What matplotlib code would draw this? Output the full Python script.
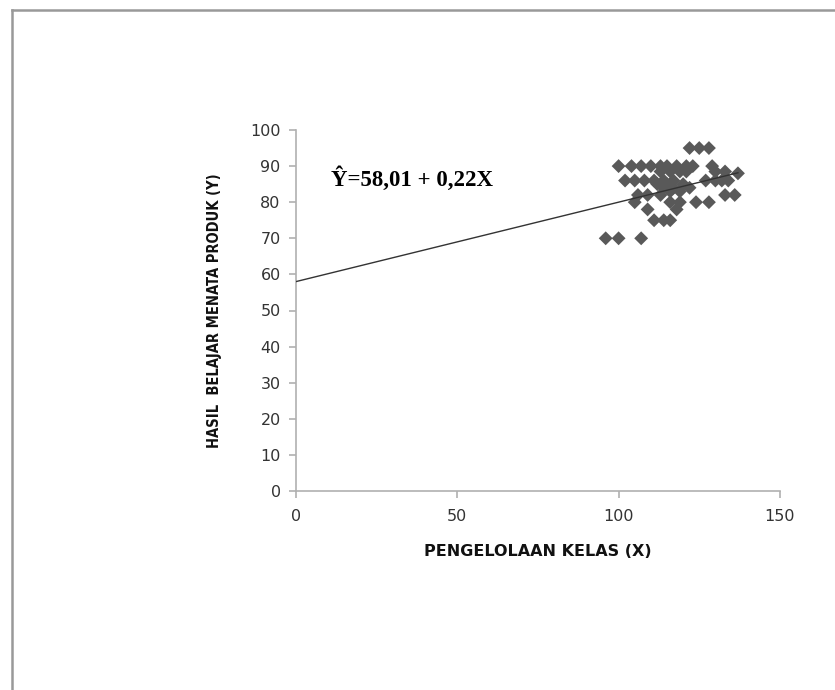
import numpy as np
import matplotlib
matplotlib.use("Agg")
import matplotlib.pyplot as plt
from matplotlib.lines import Line2D

# data
x_kelas = [122, 125, 128,
           100, 104, 107, 110, 113, 115, 118, 121, 123, 129,
           113, 116, 119, 121, 130, 133, 137,
           102, 105, 108, 111, 114, 117, 127, 130, 132, 134,
           112, 115, 120,
           114, 117, 122,
           116, 119,
           106, 109, 113, 133, 136,
           105, 116, 119, 124, 128,
           109, 118,
           111, 114, 116,
           96, 100, 107]
y_hasil = [95, 95, 95,
           90, 90, 90, 90, 90, 90, 90, 90, 90, 90,
           88.5, 88.5, 88.5, 88.5, 88.5, 88.5, 88,
           86, 86, 86, 86, 86, 86, 86, 86, 86, 86,
           85, 85, 85,
           84, 84, 84,
           83, 83,
           82, 82, 82, 82, 82,
           80, 80, 80, 80, 80,
           78, 78,
           75, 75, 75,
           70, 70, 70]

a0 = 58.01
b1 = 0.22
x_line = [0, 137]
xticks = [0, 50, 100, 150]
yticks = [0, 10, 20, 30, 40, 50, 60, 70, 80, 90, 100]

fig = plt.figure(figsize=(8.35, 6.9), dpi=100)
ax = fig.add_axes([0.3545, 0.2884, 0.5795, 0.5232])

y_line = [a0 + b1 * v for v in x_line]
ax.plot(x_line, y_line, color="#333333", lw=1.0, zorder=3)
ax.scatter(x_kelas, y_hasil, marker="D", s=50, color="#595959",
           edgecolors="none", zorder=2)

ax.set_xlim(0, 150)
ax.set_ylim(0, 100)
ax.set_xticks(xticks)
ax.set_yticks(yticks)
for s in ["top", "right"]:
    ax.spines[s].set_visible(False)
for s in ["left", "bottom"]:
    ax.spines[s].set_color("#b0b0b0")
    ax.spines[s].set_linewidth(1.2)
ax.tick_params(axis="both", colors="#b0b0b0", length=5, width=1.2,
               labelcolor="#333333", labelsize=11.5)
ax.tick_params(axis="x", pad=8)
ax.tick_params(axis="y", pad=6)

ax.set_xlabel("PENGELOLAAN KELAS (X)", fontsize=11.5, fontweight="bold",
              color="#111111", labelpad=14)
ax.set_ylabel("HASIL  BELAJAR MENATA PRODUK (Y)", fontsize=10.5,
              fontweight="bold", color="#111111", labelpad=20,
              fontstretch="condensed")

ax.text(11, 86.5, "Ŷ=58,01 + 0,22X", fontsize=16.5, fontweight="bold",
        family="Liberation Serif", color="#000000", va="center")

# page frame
fig.add_artist(Line2D([12 / 835, 12 / 835], [0, 1 - 10 / 690],
                      transform=fig.transFigure, color="#999999", lw=1.8))
fig.add_artist(Line2D([12 / 835, 1], [1 - 10 / 690, 1 - 10 / 690],
                      transform=fig.transFigure, color="#999999", lw=1.8))

fig.savefig("out.png", dpi=100)
